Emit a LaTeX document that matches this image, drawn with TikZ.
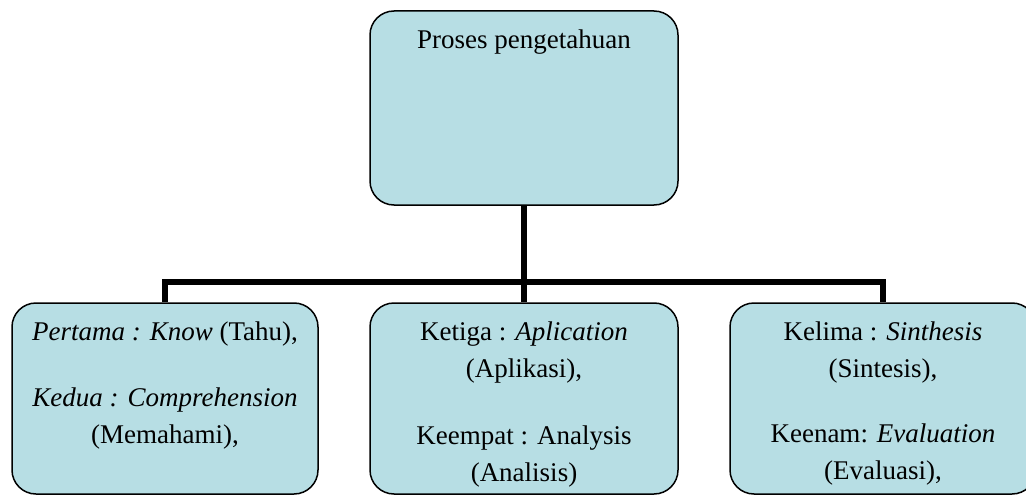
\documentclass[tikz,border=0pt]{standalone}
\usepackage{fontspec}
\setmainfont{Liberation Serif}
\usepackage{tikz}
\definecolor{kotakbiru}{RGB}{183,222,228}

\begin{document}
\begin{tikzpicture}[x=1pt, y=-1pt, line join=miter]
            % Gaya
            \tikzstyle{kotak}=[draw, line width=1.5pt, rounded corners=24pt, fill=kotakbiru, inner sep=0pt]
            \tikzstyle{teks}=[align=center, inner sep=0pt, anchor=north, font=\fontsize{27}{37}\selectfont]
            \tikzstyle{garis}=[line width=6pt]

            \useasboundingbox (0,0) rectangle (1026,495);

            % Kotak
            \node[kotak, minimum width=308pt, minimum height=194pt] (proses) at (524,108) {};
            \node[kotak, minimum width=306pt, minimum height=191pt] (satu) at (165,398.5) {};
            \node[kotak, minimum width=308pt, minimum height=191pt] (tiga) at (524,398.5) {};
            \node[kotak, minimum width=306pt, minimum height=191pt] (lima) at (883,398.5) {};

            % Teks
            \node[teks] (tproses) at (524,30) {Proses pengetahuan};
            \node[teks] (tsatu) at (165,322) {\textit{Pertama : Know} (Tahu),\\[29pt] \textit{Kedua : Comprehension}\\ (Memahami),};
            \node[teks] (ttiga) at (524,322) {Ketiga : \textit{Aplication}\\ (Aplikasi),\\[30pt] Keempat : Analysis\\ (Analisis)};
            \node[teks] (tlima) at (883,322) {Kelima : \textit{Sinthesis}\\ (Sintesis),\\[28pt] Keenam: \textit{Evaluation}\\ (Evaluasi),};

            % Garis
            \coordinate (cabang) at (524,282);
            \draw[garis] (proses.south) -- (cabang);
            \draw[garis] (satu.north) |- (cabang) -| (lima.north);
            \draw[garis] (cabang) -- (tiga.north);
        \end{tikzpicture}
\end{document}
